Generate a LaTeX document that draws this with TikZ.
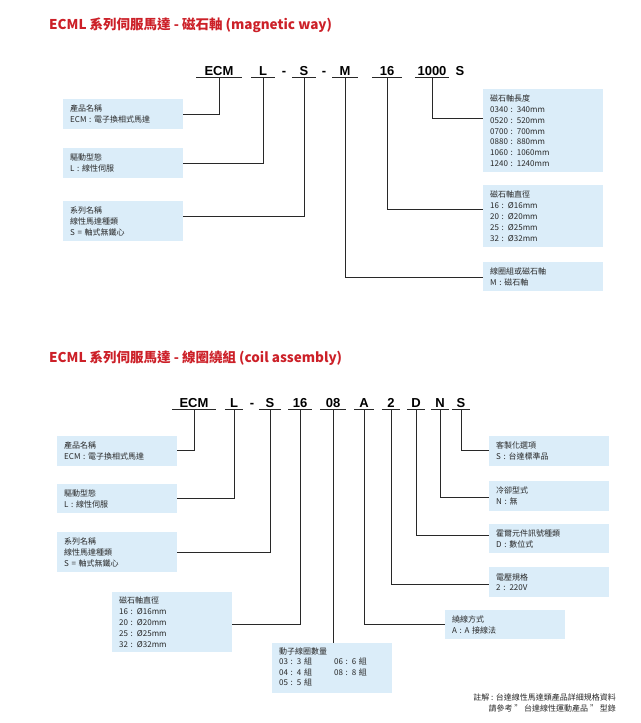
\documentclass[tikz,border=0pt]{standalone}
\usepackage{fontspec}
\setmainfont{Noto Sans CJK TC}
\newfontfamily\codefont{Liberation Sans}
\usetikzlibrary{positioning}
\definecolor{boxblue}{RGB}{219,237,249}
\definecolor{titlered}{RGB}{204,32,40}
\definecolor{inkgray}{RGB}{40,40,40}
\tikzset{
  code/.style={font=\codefont\bfseries\fontsize{13}{13}\selectfont, anchor=base, inner xsep=0pt, inner ysep=2pt, minimum width=#1},
  code/.default=0pt,
  box/.style={fill=boxblue, anchor=north west, minimum width=120, minimum height=#1, text width=106, inner xsep=7, inner ysep=2, align=left, text=inkgray, font=\fontsize{8}{10.8}\selectfont},
  link/.style={draw=inkgray, line width=0.8pt},
  heading/.style={anchor=base west, text=titlered, font=\bfseries\fontsize{13.5}{14}\selectfont, inner sep=0pt}
}
\begin{document}
\begin{tikzpicture}[x=1pt, y=-1pt]
\useasboundingbox (0,0) rectangle (640,723);
% magnetic way
\node[heading] (t1) at (49,29) {ECML 系列伺服馬達 - 磁石軸 (magnetic way)};
\node[code=45] (m-ecm) at (219,75) {ECM};
\node[code=23] (m-l) at (263,75) {L};
\node[code] at (284,75) {-};
\node[code=24] (m-s) at (304,75) {S};
\node[code] at (324,75) {-};
\node[code=25] (m-m) at (345,75) {M};
\node[code=30] (m-16) at (387,75) {16};
\node[code=34] (m-len) at (432,75) {1000};
\node[code] at (460,75) {S};
\foreach \n in {m-ecm,m-l,m-s,m-m,m-16,m-len}
  \draw[link] (\n.south west) -- (\n.south east);
\node[box=30] (m-name) at (63,99) {產品名稱\\ECM : 電子換相式馬達};
\node[box=30] (m-drive) at (63,148) {驅動型態\\L : 線性伺服};
\node[box=40] (m-series) at (63,201) {系列名稱\\線性馬達種類\\S = 軸式無鐵心};
\node[box=83] (m-length) at (483,89) {磁石軸長度\\0340 : 340mm\\0520 : 520mm\\0700 : 700mm\\0880 : 880mm\\1060 : 1060mm\\1240 : 1240mm};
\node[box=62] (m-dia) at (483,185) {磁石軸直徑\\16 : Ø16mm\\20 : Ø20mm\\25 : Ø25mm\\32 : Ø32mm};
\node[box=29] (m-part) at (483,262) {線圈組或磁石軸\\M : 磁石軸};
\draw[link] (m-ecm.south) |- (m-name.east |- 0,114);
\draw[link] (m-l.south) |- (m-drive.east |- 0,163);
\draw[link] (m-s.south) |- (m-series.east |- 0,216);
\draw[link] (m-len.south) |- (m-length.west |- 0,118);
\draw[link] (m-16.south) |- (m-dia.west |- 0,209);
\draw[link] (m-m.south) |- (m-part.west |- 0,277);
% coil assembly
\node[heading] (t2) at (49,362) {ECML 系列伺服馬達 - 線圈繞組 (coil assembly)};
\node[code=43] (c-ecm) at (194,407) {ECM};
\node[code=18] (c-l) at (234,407) {L};
\node[code] at (252,407) {-};
\node[code=22] (c-s) at (270,407) {S};
\node[code=23] (c-16) at (300,407) {16};
\node[code=25] (c-08) at (333,407) {08};
\node[code=19] (c-a) at (364,407) {A};
\node[code=18] (c-2) at (391,407) {2};
\node[code=17] (c-d) at (416,407) {D};
\node[code=17] (c-n) at (440,407) {N};
\node[code=18] (c-opt) at (461,407) {S};
\foreach \n in {c-ecm,c-l,c-s,c-16,c-08,c-a,c-2,c-d,c-n,c-opt}
  \draw[link] (\n.south west) -- (\n.south east);
\node[box=30] (c-name) at (57,436) {產品名稱\\ECM : 電子換相式馬達};
\node[box=29] (c-drive) at (57,484) {驅動型態\\L : 線性伺服};
\node[box=40] (c-series) at (57,532) {系列名稱\\線性馬達種類\\S = 軸式無鐵心};
\node[box=60] (c-dia) at (112,592) {磁石軸直徑\\16 : Ø16mm\\20 : Ø20mm\\25 : Ø25mm\\32 : Ø32mm};
\node[box=50] (c-coils) at (272,643) {動子線圈數量\\[1pt]\begin{tabular}{@{}l@{\hspace{22pt}}l@{}}03 : 3 組 & 06 : 6 組\\04 : 4 組 & 08 : 8 組\\05 : 5 組 & \end{tabular}};
\node[box=30] (c-custom) at (489,436) {客製化選項\\S : 台達標準品};
\node[box=30] (c-cool) at (489,481) {冷卻型式\\N : 無};
\node[box=29] (c-hall) at (489,524) {霍爾元件訊號種類\\D : 數位式};
\node[box=30] (c-volt) at (489,567) {電壓規格\\2 : 220V};
\node[box=29] (c-wind) at (445,610) {繞線方式\\A : A 接線法};
\draw[link] (c-ecm.south) |- (c-name.east |- 0,450);
\draw[link] (c-l.south) |- (c-drive.east |- 0,498);
\draw[link] (c-s.south) |- (c-series.east |- 0,552);
\draw[link] (c-16.south) |- (c-dia.east |- 0,624);
\draw[link] (c-08.south) -- (c-08.south |- c-coils.north);
\draw[link] (c-a.south) |- (c-wind.west |- 0,624);
\draw[link] (c-2.south) |- (c-volt.west |- 0,584);
\draw[link] (c-d.south) |- (c-hall.west |- 0,535);
\draw[link] (c-n.south) |- (c-cool.west |- 0,497);
\draw[link] (c-opt.south) |- (c-custom.west |- 0,450);
\node[anchor=north east, align=right, inner sep=0pt, text=inkgray, font=\fontsize{8}{11.5}\selectfont] (note) at (616,693) {註解 : 台達線性馬達類產品詳細規格資料\\請參考 " 台達線性運動產品 " 型錄};
\end{tikzpicture}
\end{document}
